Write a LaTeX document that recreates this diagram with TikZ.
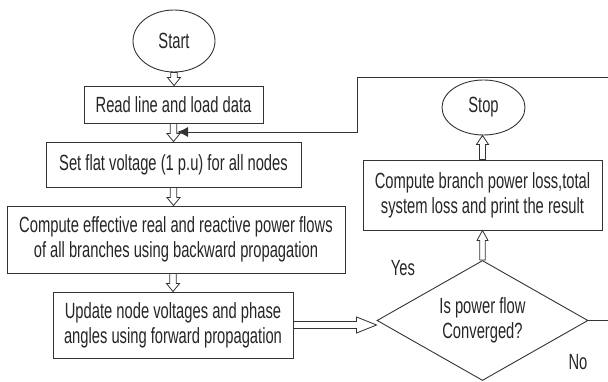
\documentclass[tikz,border=0pt]{standalone}
\usepackage{fontspec}
\setmainfont{Liberation Sans}[FakeStretch=0.67]
\usetikzlibrary{shapes.geometric,arrows.meta,calc}
\definecolor{linec}{HTML}{333333}
\definecolor{txtc}{HTML}{262626}
\newcommand\vhollow[5]{% from, to, shaft half width, head half width, head length
  \draw[hol] let \p1=(#1), \p2=(#2), \n1={sign(\y2-\y1)} in
    (\x1-#3pt,\y1) -- (\x1-#3pt,\y2-\n1*#5pt) -- (\x1-#4pt,\y2-\n1*#5pt) -- (\x1,\y2)
    -- (\x1+#4pt,\y2-\n1*#5pt) -- (\x1+#3pt,\y2-\n1*#5pt) -- (\x1+#3pt,\y1) -- cycle;}
\newcommand\hhollow[5]{% from, to, shaft half width, head half width, head length
  \draw[hol] let \p1=(#1), \p2=(#2), \n1={sign(\x2-\x1)} in
    (\x1,\y1-#3pt) -- (\x2-\n1*#5pt,\y1-#3pt) -- (\x2-\n1*#5pt,\y1-#4pt) -- (\x2,\y1)
    -- (\x2-\n1*#5pt,\y1+#4pt) -- (\x2-\n1*#5pt,\y1+#3pt) -- (\x1,\y1+#3pt) -- cycle;}
\begin{document}
\begin{tikzpicture}[x=1pt,y=-1pt,
  every node/.style={text=txtc, font=\fontsize{22}{25}\selectfont},
  box/.style={draw=linec, line width=0.9pt, rectangle, inner sep=0pt, align=center},
  oval/.style={draw=linec, line width=0.9pt, ellipse, inner sep=0pt},
  dec/.style={draw=linec, line width=0.9pt, diamond, aspect=1.75, inner sep=0pt, align=center},
  hol/.style={draw=linec, line width=0.8pt, fill=white},
  line/.style={draw=linec, line width=0.9pt}]
\useasboundingbox (0,0) rectangle (608,382);
\clip (0,0) rectangle (608,382);
\fill[white] (0,0) rectangle (608,382);

\node[oval, minimum width=82, minimum height=62] (start) at (174,41) {Start};
\node[box, minimum width=179, minimum height=37] (read) at (173.5,104.5) {Read line and load data};
\node[box, minimum width=255, minimum height=45] (set) at (173.5,164.5) {Set flat voltage (1 p.u) for all nodes};
\node[box, minimum width=338, minimum height=67] (comp) at (176,239.5) {Compute effective real and reactive power flows\\of all branches using backward propagation};
\node[box, minimum width=240, minimum height=66] (upd) at (173,325) {Update node voltages and phase\\angles using forward propagation};
\node[dec, minimum width=211, minimum height=120] (dia) at (482.5,320.5) {Is power flow\\Converged?};
\node[box, minimum width=239, minimum height=70] (cb) at (482.5,195) {Compute branch power loss,total\\system loss and print the result};
\node[oval, minimum width=83, minimum height=55] (stop) at (483.5,107.5) {Stop};

\node (yes) at (403,268) {Yes};
\node (no) at (578,362) {No};

\vhollow{start.south}{read.north}{3.3}{6.5}{8}
\vhollow{read.south}{set.north}{3.3}{6.5}{8}
\vhollow{set.south}{set.south |- comp.north}{3.3}{6.5}{8}
\vhollow{comp.south -| upd.north}{upd.north}{3.3}{6.5}{8}
\vhollow{dia.north}{cb.south}{2.8}{5.5}{10}
\vhollow{cb.north}{stop.south}{3}{6}{9}
\hhollow{upd.east}{dia.west}{3.5}{8}{20}

\coordinate (join) at (177,132);
\draw[line, -{Latex[length=11pt,width=10pt]}] (dia.east) -- (620,320.5) -- (620,77) -- (357,77) -- (357,132) -- (join);
\end{tikzpicture}
\end{document}
